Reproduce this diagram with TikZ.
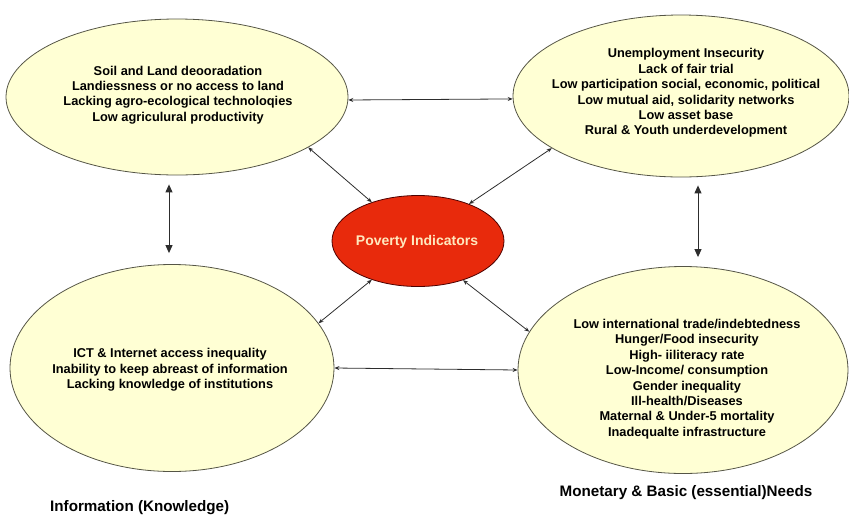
\documentclass[tikz,border=0pt]{standalone}
\usepackage{fontspec}
\setmainfont{Liberation Sans}
\usetikzlibrary{arrows.meta,shapes.geometric}
\definecolor{cream}{RGB}{255,255,212}
\definecolor{rim}{RGB}{85,85,70}
\definecolor{pired}{RGB}{232,42,12}
\definecolor{pitext}{RGB}{255,232,190}
\definecolor{arr}{RGB}{45,45,45}
\tikzset{
  bubble/.style={ellipse,draw=rim,fill=cream,line width=0.8pt,inner sep=0pt},
  bubbletext/.style={align=center,font=\fontsize{12.8}{15.4}\selectfont\bfseries,text=black,inner sep=0pt},
  duo/.style={draw=arr,line width=0.8pt,{Stealth[length=5pt,width=4pt]}-{Stealth[length=5pt,width=4pt]}},
  bigduo/.style={draw=arr,line width=1pt,{Triangle[length=8pt,width=7pt]}-{Triangle[length=8pt,width=7pt]}},
  caption/.style={font=\fontsize{15.2}{17}\selectfont\bfseries,inner sep=0pt}
}
\begin{document}
\begin{tikzpicture}[x=1pt,y=-1pt]
\useasboundingbox (0,0) rectangle (849,515);
\node[bubble,minimum width=342pt,minimum height=156pt] (tl) at (177,97) {};
\node[bubble,minimum width=336pt,minimum height=162pt] (tr) at (681,96) {};
\node[bubble,minimum width=324pt,minimum height=207pt] (bl) at (172,368) {};
\node[bubble,minimum width=330pt,minimum height=207pt] (br) at (683,370) {};
\node[ellipse,draw=black!70!red,fill=pired,line width=0.8pt,inner sep=0pt,minimum width=172pt,minimum height=91pt] (pi) at (418,241) {};
\node[font=\fontsize{14}{16}\selectfont\bfseries,text=pitext] (pit) at (417,242) {Poverty Indicators};

\node[bubbletext] (tlt) at (178,95) {Soil and Land deooradation\\Landiessness or no access to land\\Lacking agro-ecological technoloqies\\Low agriculural productivity};
\node[bubbletext] (trt) at (686,93) {Unemployment Insecurity\\Lack of fair trial\\Low participation social, economic, political\\Low mutual aid, solidarity networks\\Low asset base\\Rural \& Youth underdevelopment};
\node[bubbletext] (blt) at (170,370) {ICT \& Internet access inequality\\Inability to keep abreast of information\\Lacking knowledge of institutions};
\node[bubbletext] (brt) at (687,379) {Low international trade/indebtedness\\Hunger/Food insecurity\\High- iiliteracy rate\\Low-Income/ consumption\\Gender inequality\\Ill-health/Diseases\\Maternal \& Under-5 mortality\\Inadequalte infrastructure};

\node[caption,anchor=west] (capl) at (50,508) {Information (Knowledge)};
\node[caption] (capr) at (686,493) {Monetary \& Basic (essential)Needs};

\draw[duo] (tl.-1) -- (tr.181);
\draw[duo] (bl.east) -- (br.west);
\draw[bigduo,shorten <=9pt,shorten >=11pt] ([xshift=-8pt]tl.south) -- ([xshift=-3pt]bl.north);
\draw[bigduo,shorten <=8pt,shorten >=9pt] ([xshift=17pt]tr.south) -- ([xshift=15pt]br.north);
\draw[duo] (tl.-21) -- (pi.140);
\draw[duo] (tr.202) -- (pi.36);
\draw[duo] (bl.17) -- (pi.220);
\draw[duo] (br.166) -- (pi.-41);
\end{tikzpicture}
\end{document}
